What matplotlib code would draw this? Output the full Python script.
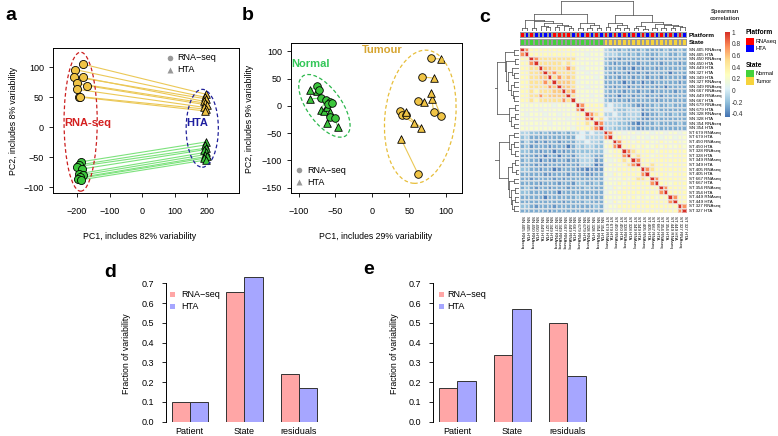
import numpy as np
import matplotlib
matplotlib.use("Agg")
import matplotlib.pyplot as plt
from matplotlib.patches import Ellipse, Rectangle
from matplotlib.colors import LinearSegmentedColormap, ListedColormap

plt.rcParams['font.family'] = ['Liberation Sans', 'DejaVu Sans']

W, H = 778, 436

# ---------------- data ----------------
# panel a: PCA with both platforms (RNA-seq circles, HTA triangles, paired by patient)
a_tum_rna_x = [-181, -206, -209, -183, -201, -168, -199, -194, -190]
a_tum_rna_y = [105, 96, 84, 83, 73, 69, 63, 51, 50]
a_tum_hta_x = [195, 192, 197, 190, 194, 199, 191, 196, 193]
a_tum_hta_y = [55, 50, 47, 43, 40, 37, 33, 30, 27]
a_nor_rna_x = [-188, -193, -200, -186, -195, -183, -190, -197, -187]
a_nor_rna_y = [-58, -63, -66, -70, -78, -80, -84, -86, -88]
a_nor_hta_x = [195, 192, 198, 190, 196, 193, 199, 191, 195]
a_nor_hta_y = [-25, -30, -35, -38, -42, -46, -49, -52, -55]

# panel b: PCA after platform correction
b_nor_rna_x = [-75, -72, -70, -63, -58, -60, -55, -57, -51]
b_nor_rna_y = [36, 30, 14, 10, 7, 3, 5, -20, -23]
b_nor_hta_x = [-84, -75, -84, -70, -66, -62, -58, -62, -47]
b_nor_hta_y = [29, 27, 13, -7, -10, -2, -12, -32, -38]
b_tum_rna_x = [80, 68, 62, 37, 40, 46, 83, 93, 62]
b_tum_rna_y = [87, 53, 8, -9, -17, -16, -11, -18, -125]
b_tum_hta_x = [93, 83, 70, 46, 57, 66, 81, 80, 39]
b_tum_hta_y = [86, 51, 7, -12, -32, -40, 12, 24, -61]

# panel c: spearman correlation heatmap (upper triangle, coded levels)
sample_labels = [
    "SN 405 RNAseq", "SN 405 HTA", "SN 450 RNAseq", "SN 450 HTA", "SN 449 HTA",
    "SN 327 HTA", "SN 349 HTA", "SN 327 RNAseq", "SN 349 RNAseq", "SN 667 RNAseq",
    "SN 449 RNAseq", "SN 667 HTA", "SN 679 RNAseq", "SN 679 HTA", "SN 328 RNAseq",
    "SN 328 HTA", "SN 354 RNAseq", "SN 354 HTA", "ST 679 RNAseq", "ST 679 HTA",
    "ST 450 RNAseq", "ST 450 HTA", "ST 328 RNAseq", "ST 328 HTA", "ST 349 RNAseq",
    "ST 349 HTA", "ST 405 RNAseq", "ST 405 HTA", "ST 667 RNAseq", "ST 667 HTA",
    "ST 354 RNAseq", "ST 354 HTA", "ST 449 RNAseq", "ST 449 HTA", "ST 327 RNAseq",
    "ST 327 HTA"]
level = {'R': 1.0, 'O': 0.74, 'o': 0.58, 'y': 0.48, 'Y': 0.32, 'w': 0.22,
         'v': 0.12, '0': 0.03, 'b': -0.12, 'B': -0.2, 'c': -0.27,
         'C': -0.34, 'D': -0.42}
corr_upper = [
    "ROYYYYYYYYYYwwwwww" + "bBccBcccBccccBccBc",
    "RYYYYYYYYYYwwvwww" + "bbbBBcBcBcccBBccBc",
    "ROyyyyyyyywwwwww" + "BccCccccccCccccccc",
    "RyyyyyYyYwwwwww" + "BcCccCcCccccCcccCc",
    "RooyyyOywvwwww" + "ccccCcDcCccCcccccc",
    "RoOyyyywwvwww" + "BcCccDcCcCccccDccc",
    "RyOyoywwwwvw" + "cccCccCccCccCccccC",
    "Roooyvwwwww" + "ccccDcCcDcCcccccCc",
    "Rooywwvwww" + "ccCccDccCccCcDcccc",
    "RoOwwwwww" + "BcccCccCccCccccCcc",
    "Rywwwvww" + "cccDccCccCccCccccc",
    "Rwwwwwv" + "BccccCcccccCcccccc",
    "ROYYYY" + "b0bbBBcCCccBccBccc",
    "RYYYY" + "00bBBbbbCccBcccccc",
    "ROyY" + "bb0bBbbbDCccBccBcc",
    "RYy" + "0bbbBBbBCCcccccccc",
    "RO" + "bbbBBcCDCccBccccBc",
    "R" + "bbBBBccCCccccccccc",
    "ROwwvwwvwwvwwvwwvw",
    "RwYwwvwwvwwvwwvww",
    "ROYYwYwYwwYwwYww",
    "RYYYwYwwYwYwwYw",
    "ROyYYYYwYYYYYY",
    "RYyYYwYYYwYYY",
    "ROYYYYYYYYYY",
    "RYYyYYYwYYY",
    "ROyYYYYYYY",
    "RYYYYwYYY",
    "ROYYYYYY",
    "RYYwYYY",
    "ROYYYY",
    "RYYYY",
    "ROYY",
    "RYY",
    "RO",
    "R"]
# hierarchical clustering tree: [left, right, height]
normal_tree = [[[0, 1, 0.12], [[2, 3, 0.10], [[4, [5, 6, 0.14], 0.19],
               [[7, 8, 0.13], [9, [10, 11, 0.12], 0.17], 0.22], 0.28], 0.33], 0.38],
               [[12, 13, 0.11], [[14, 15, 0.10], [16, 17, 0.12], 0.2], 0.27], 0.58]
tumor_tree = [[[18, 19, 0.14], [[20, 21, 0.12], [22, 23, 0.10], 0.2], 0.26],
              [[[24, 25, 0.11], [26, 27, 0.09], 0.19],
               [[28, 29, 0.12], [[30, 31, 0.10], [[32, 33, 0.11], [34, 35, 0.13], 0.18], 0.22], 0.25], 0.3], 0.52]
sample_tree = [normal_tree, tumor_tree, 1.0]

# panels d, e: variance partition
categories = ["Patient", "State", "residuals"]
d_rnaseq = [0.102, 0.656, 0.240]
d_hta = [0.099, 0.730, 0.169]
e_rnaseq = [0.169, 0.337, 0.497]
e_hta = [0.206, 0.568, 0.232]

# ---------------- helpers ----------------
def rect(l, t, r, b):
    return [l / W, 1 - b / H, (r - l) / W, (b - t) / H]

YEL = '#F0C446'
GRN = '#3CC63C'
YEL_LINE = '#EBC856'
GRN_LINE = '#7DE27D'
PINK = '#FFA6A6'
LAV = '#A6A6FF'

fig = plt.figure(figsize=(W / 100, H / 100), dpi=100)


def style_pca(ax):
    ax.tick_params(direction='out', length=3, width=0.6, labelsize=6.5)
    ax.tick_params(axis='x', pad=7)
    ax.tick_params(axis='y', pad=3.4)
    for s in ax.spines.values():
        s.set_linewidth(0.7)


# ---------------- panel a ----------------
ax = fig.add_axes(rect(53, 48, 239, 193))
for x0, y0, x1, y1 in zip(a_tum_rna_x, a_tum_rna_y, a_tum_hta_x, a_tum_hta_y):
    ax.plot([x0, x1], [y0, y1], color=YEL_LINE, lw=0.8, zorder=1)
for x0, y0, x1, y1 in zip(a_nor_rna_x, a_nor_rna_y, a_nor_hta_x, a_nor_hta_y):
    ax.plot([x0, x1], [y0, y1], color=GRN_LINE, lw=0.8, zorder=1)
ax.scatter(a_tum_rna_x, a_tum_rna_y, s=34, marker='o', c=YEL, edgecolors='black', linewidths=0.6, zorder=3)
ax.scatter(a_nor_rna_x, a_nor_rna_y, s=34, marker='o', c=GRN, edgecolors='black', linewidths=0.6, zorder=3)
ax.scatter(a_tum_hta_x, a_tum_hta_y, s=30, marker='^', c=YEL, edgecolors='black', linewidths=0.6, zorder=3)
ax.scatter(a_nor_hta_x, a_nor_hta_y, s=30, marker='^', c=GRN, edgecolors='black', linewidths=0.6, zorder=3)
ax.add_patch(Ellipse((-189, 9), 102, 232, fill=False, ec='#CC2020', lw=0.9, ls=(0, (3, 2)), zorder=4))
ax.add_patch(Ellipse((185, -2), 99, 130, fill=False, ec='#20209A', lw=0.9, ls=(0, (3, 2)), zorder=4))
ax.text(-166, 7, "RNA-seq", color='#D42020', fontsize=8, fontweight='bold', ha='center', va='center', zorder=5)
ax.text(170, 7, "HTA", color='#1E1EA0', fontsize=8, fontweight='bold', ha='center', va='center', zorder=5)
ax.set_xlim(-274, 298)
ax.set_ylim(-110, 132)
ax.set_xticks([-200, -100, 0, 100, 200])
ax.set_yticks([-100, -50, 0, 50, 100])
style_pca(ax)

# ---------------- panel b ----------------
ax = fig.add_axes(rect(291, 43, 462, 193))
for x0, y0, x1, y1 in zip(b_tum_rna_x, b_tum_rna_y, b_tum_hta_x, b_tum_hta_y):
    ax.plot([x0, x1], [y0, y1], color=YEL_LINE, lw=0.8, zorder=1)
for x0, y0, x1, y1 in zip(b_nor_rna_x, b_nor_rna_y, b_nor_hta_x, b_nor_hta_y):
    ax.plot([x0, x1], [y0, y1], color=GRN_LINE, lw=0.8, zorder=1)
ax.scatter(b_nor_hta_x, b_nor_hta_y, s=30, marker='^', c=GRN, edgecolors='black', linewidths=0.6, zorder=3)
ax.scatter(b_nor_rna_x, b_nor_rna_y, s=30, marker='o', c=GRN, edgecolors='black', linewidths=0.6, zorder=3)
ax.scatter(b_tum_rna_x, b_tum_rna_y, s=30, marker='o', c=YEL, edgecolors='black', linewidths=0.6, zorder=3)
ax.scatter(b_tum_hta_x, b_tum_hta_y, s=30, marker='^', c=YEL, edgecolors='black', linewidths=0.6, zorder=3)
ax.add_patch(Ellipse((-65, 0), 50, 125, angle=25, fill=False, ec='#2DB84D', lw=0.9, ls=(0, (3, 2)), zorder=4))
ax.add_patch(Ellipse((65, -20), 96, 245, angle=-4, fill=False, ec='#E7BE3A', lw=0.9, ls=(0, (3, 2)), zorder=4))
ax.text(-84, 77, "Normal", color='#34C759', fontsize=8, fontweight='bold', ha='center', va='center', zorder=5)
ax.text(14, 103, "Tumour", color='#D6A531', fontsize=8, fontweight='bold', ha='center', va='center', zorder=5)
ax.set_xlim(-110.3, 121.6)
ax.set_ylim(-160, 115.4)
ax.set_xticks([-100, -50, 0, 50, 100])
ax.set_yticks([-150, -100, -50, 0, 50, 100])
style_pca(ax)

# ---------------- panel c: heatmap ----------------
n = len(sample_labels)
M = np.zeros((n, n))
for i, row in enumerate(corr_upper):
    assert len(row) == n - i
    for k, ch in enumerate(row):
        M[i, i + k] = level[ch]
        M[i + k, i] = level[ch]

vmin, vmax = -0.45, 1.0
cmap = LinearSegmentedColormap.from_list(
    'rdylbu_r', ["#4575B4", "#91BFDB", "#E0F3F8", "#FFFFBF", "#FEE090", "#FC8D59", "#D73027"])

hm = fig.add_axes(rect(520, 47.7, 687, 213.3))
hm.pcolormesh(np.arange(n + 1), np.arange(n + 1), M, cmap=cmap, vmin=vmin, vmax=vmax,
              edgecolors=(0.93, 0.93, 0.93, 0.55), linewidth=0.15)
hm.set_xlim(0, n)
hm.set_ylim(n, 0)
hm.axis('off')
for i, lab in enumerate(sample_labels):
    hm.text(n + 0.4, i + 0.5, lab, fontsize=3.2, ha='left', va='center', clip_on=False)
    hm.text(i + 0.5, n + 0.5, lab, fontsize=3.2, rotation=270, ha='center', va='top', clip_on=False)

# annotation bars
platform = [1 if 'RNAseq' in s else 0 for s in sample_labels]
state = [0 if s.startswith('SN') else 1 for s in sample_labels]
ax_pf = fig.add_axes(rect(520, 32, 687, 38.5))
ax_pf.pcolormesh(np.arange(n + 1), [0, 1], np.array([platform]),
                 cmap=ListedColormap(['#0000FF', '#FF0000']), vmin=0, vmax=1,
                 edgecolors='#999999', linewidth=0.2)
ax_pf.axis('off')
ax_st = fig.add_axes(rect(520, 39.3, 687, 45.8))
ax_st.pcolormesh(np.arange(n + 1), [0, 1], np.array([state]),
                 cmap=ListedColormap(['#44D13A', '#F6D33C']), vmin=0, vmax=1,
                 edgecolors='#999999', linewidth=0.2)
ax_st.axis('off')


def draw_tree(ax, node, orient):
    if isinstance(node, int):
        return node + 0.5, 0.0
    left, right, h = node
    xl, hl = draw_tree(ax, left, orient)
    xr, hr = draw_tree(ax, right, orient)
    for p, q in [((xl, hl), (xl, h)), ((xr, hr), (xr, h)), ((xl, h), (xr, h))]:
        if orient == 'top':
            ax.plot([p[0], q[0]], [p[1], q[1]], color='#555555', lw=0.55)
        else:
            ax.plot([p[1], q[1]], [p[0], q[0]], color='#555555', lw=0.55)
    return (xl + xr) / 2, h


ax_cd = fig.add_axes(rect(520, 0, 687, 31.5))
draw_tree(ax_cd, sample_tree, 'top')
ax_cd.set_xlim(0, n)
ax_cd.set_ylim(0, 1.02)
ax_cd.axis('off')

ax_rd = fig.add_axes(rect(495, 47.7, 519, 213.3))
draw_tree(ax_rd, sample_tree, 'left')
ax_rd.set_ylim(n, 0)
ax_rd.set_xlim(0.63, 0)
ax_rd.axis('off')

# colour key
ax_cb = fig.add_axes(rect(725, 30.7, 729.5, 116.9))
grad = np.linspace(vmin, vmax, 200).reshape(-1, 1)
ax_cb.imshow(grad, aspect='auto', cmap=cmap, vmin=vmin, vmax=vmax, origin='lower',
             extent=[0, 1, vmin, vmax])
ax_cb.set_ylim(vmin, 1.027)
ax_cb.set_xticks([])
ax_cb.yaxis.tick_right()
ax_cb.set_yticks([-0.4, -0.2, 0, 0.2, 0.4, 0.6, 0.8, 1])
ax_cb.set_yticklabels(['-0.4', '-0.2', '0', '0.2', '0.4', '0.6', '0.8', '1'])
ax_cb.tick_params(axis='y', length=0, labelsize=4.8, pad=1.5, colors='#333333')
for s in ax_cb.spines.values():
    s.set_visible(False)

# ---------------- panels d, e ----------------
def bar_panel(ax, rna, hta):
    pos_r = [1, 4, 7]
    pos_h = [2, 5, 8]
    ax.bar(pos_r, rna, width=1, align='edge', color=PINK, edgecolor='#333333', linewidth=0.7)
    ax.bar(pos_h, hta, width=1, align='edge', color=LAV, edgecolor='#333333', linewidth=0.7)
    ax.set_xlim(0.68, 9.32)
    ax.set_ylim(0, (421.7 - 275) / 197.7)
    ax.set_xticks([2, 5, 8])
    ax.set_xticklabels(categories)
    ax.set_yticks(np.arange(0, 0.71, 0.1))
    ax.set_yticklabels(['%.1f' % v for v in np.arange(0, 0.71, 0.1)])
    ax.tick_params(axis='x', length=0, labelsize=6.5, pad=4)
    ax.tick_params(axis='y', direction='out', length=3, width=0.6, labelsize=6.5, pad=5.5)
    for k in ['top', 'right', 'bottom']:
        ax.spines[k].set_visible(False)
    ax.spines['left'].set_bounds(0, 0.7)
    ax.spines['left'].set_linewidth(0.7)


ax_d = fig.add_axes(rect(165.7, 275, 323, 421.7))
bar_panel(ax_d, d_rnaseq, d_hta)
ax_e = fig.add_axes(rect(433.3, 275, 591.6, 421.7))
bar_panel(ax_e, e_rnaseq, e_hta)

# ---------------- overlay: letters, axis titles, legends ----------------
ov = fig.add_axes([0, 0, 1, 1])
ov.set_xlim(0, W)
ov.set_ylim(H, 0)
ov.axis('off')

for letter, x, y in [('a', 11, 15), ('b', 248, 15), ('c', 485, 17), ('d', 110, 272), ('e', 369, 269)]:
    ov.text(x, y, letter, fontsize=14, fontweight='bold', ha='center', va='center')

ov.text(140, 236, "PC1, includes 82% variability", fontsize=6.3, ha='center', va='center')
ov.text(14, 121, "PC2, includes 8% variability", fontsize=6.3, ha='center', va='center', rotation=90)
ov.text(376, 236, "PC1, includes 29% variability", fontsize=6.3, ha='center', va='center')
ov.text(250, 119, "PC2, includes 9% variability", fontsize=6.3, ha='center', va='center', rotation=90)
ov.text(127, 354, "Fraction of variability", fontsize=6.3, ha='center', va='center', rotation=90)
ov.text(395, 354, "Fraction of variability", fontsize=6.3, ha='center', va='center', rotation=90)

# PCA legends
for (cx, cy, tx) in [(170, 58, 177), (299, 170, 307)]:
    ov.plot(cx, cy, 'o', color='#999999', ms=4, mec='none')
    ov.text(tx, cy, "RNA\u2212seq", fontsize=6.5, ha='left', va='center')
    ov.plot(cx, cy + 12, '^', color='#999999', ms=4, mec='none')
    ov.text(tx, cy + 12, "HTA", fontsize=6.5, ha='left', va='center')

# bar legends
for (cx, tx) in [(173, 181), (441.5, 447)]:
    ov.add_patch(Rectangle((cx - 2.5, 294 - 2.5), 5, 5, color=PINK, lw=0))
    ov.text(tx, 294, "RNA\u2212seq", fontsize=6.5, ha='left', va='center')
    ov.add_patch(Rectangle((cx - 2.5, 306 - 2.5), 5, 5, color=LAV, lw=0))
    ov.text(tx, 306, "HTA", fontsize=6.5, ha='left', va='center')

# heatmap legends
ov.text(689, 35.2, "Platform", fontsize=4.6, fontweight='bold', ha='left', va='center')
ov.text(689, 42.5, "State", fontsize=4.6, fontweight='bold', ha='left', va='center')
ov.text(725, 11.5, "Spearman", fontsize=4.2, fontweight='bold', ha='center', va='center', color='#333333')
ov.text(725, 19, "correlation", fontsize=4.2, fontweight='bold', ha='center', va='center', color='#333333')
ov.text(746, 33, "Platform", fontsize=4.8, fontweight='bold', ha='left', va='center')
ov.add_patch(Rectangle((746, 37.7), 8, 7.3, color='#FF0000', lw=0))
ov.add_patch(Rectangle((746, 45), 8, 7.3, color='#0000FF', lw=0))
ov.text(756, 41.5, "RNAseq", fontsize=4.1, ha='left', va='center')
ov.text(756, 49, "HTA", fontsize=4.1, ha='left', va='center')
ov.text(746, 65.7, "State", fontsize=4.8, fontweight='bold', ha='left', va='center')
ov.add_patch(Rectangle((746, 70), 8, 7.3, color='#44D13A', lw=0))
ov.add_patch(Rectangle((746, 77.3), 8, 7.7, color='#F6D33C', lw=0))
ov.text(756, 73.5, "Normal", fontsize=4.1, ha='left', va='center')
ov.text(756, 81.2, "Tumor", fontsize=4.1, ha='left', va='center')

fig.savefig('out.png', dpi=100)
